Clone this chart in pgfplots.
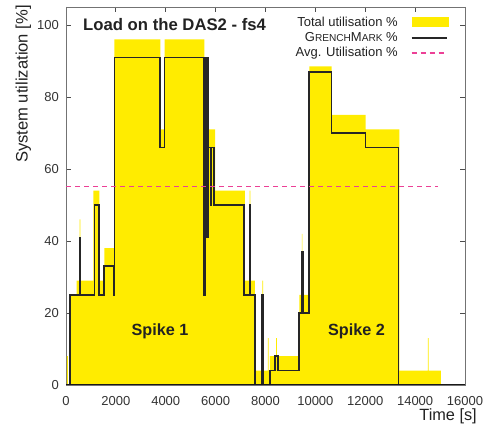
\documentclass[border=0pt]{standalone}
\usepackage{fontspec}
\setmainfont{Liberation Sans}
\usepackage{pgfplots}
\pgfplotsset{compat=1.18}
\definecolor{ylw}{RGB}{255,236,0}
\definecolor{avg}{RGB}{236,64,150}
\definecolor{txt}{RGB}{34,34,34}
\newcommand\fsc[1]{{\fontsize{10.1}{10}\selectfont #1}}

\begin{document}
\begin{tikzpicture}
\path[use as bounding box] (0pt,0pt) rectangle (488pt,425pt);
\begin{axis}[
  at={(66pt,40pt)}, anchor=south west,
  scale only axis, width=399pt, height=378pt,
  xmin=0, xmax=16000, ymin=0, ymax=105,
  xtick={0,2000,...,16000}, ytick={0,20,...,100},
  scaled x ticks=false,
  /pgf/number format/1000 sep={},
  /pgf/number format/assume math mode=true,
  ticklabel style={font=\fontsize{13}{13}\selectfont, text=black!80},
  xticklabel style={inner sep=0pt, yshift=-11.5pt},
  yticklabel style={inner sep=0pt, xshift=-7pt},
  tick align=inside, major tick length=5pt,
  tick style={black!70, line width=0.8pt},
  axis line style={black!55, line width=0.8pt},
  xlabel={Time [s]},
  xlabel style={inner sep=0pt, at={(axis description cs:1.030,-0.061)}, anchor=north east, font=\fontsize{16.3}{17}\selectfont, text=txt},
  ylabel={System utilization [\%]},
  ylabel style={inner sep=0pt, at={(axis description cs:-0.107,0.796)}, anchor=center, font=\fontsize{16.6}{17}\selectfont, text=txt},
  legend plot pos=right,
  legend style={draw=none, fill=none, at={(rel axis cs:0.967,0.985)}, anchor=north east,
    font=\fontsize{13}{13}\selectfont, text=txt, cells={anchor=east}, row sep=0.6pt,
    /tikz/every odd column/.append style={column sep=11pt}},
]
\addplot[const plot, fill=ylw, draw=none,
  legend image code/.code={\fill[ylw] (0pt,-5pt) rectangle (37pt,5pt);}]
  coordinates {(0,0) (35,8) (75,0) (160,25) (428,29) (545,46) (580,29) (1095,54) (1335,29)
  (1535,38) (1937,96) (3780,71) (3957,96) (5545,71) (5975,54) (7177,29) (7365,54) (7395,29)
  (7578,4) (7870,29) (7900,4) (8100,13) (8130,4) (8180,8) (8430,13) (8460,8) (9355,25)
  (9455,42) (9480,25) (9755,88.5) (10653,75) (12016,71) (13365,4) (14510,13) (14540,4)
  (15036,0)} \closedcycle;
\addlegendentry{Total utilisation \%}
\addplot[const plot, black!85, line width=1.6pt, line join=miter,
  legend image code/.code={\draw[black!85,line width=1.8pt] (0pt,0pt) -- (35pt,0pt);}]
  coordinates {(0,0) (160,25) (540,41) (580,25) (1135,50) (1335,25) (1535,33) (1925,25)
  (1937,91) (3780,66) (3957,91) (5545,25) (5570,33) (5595,91) (5615,41) (5640,91) (5660,41)
  (5685,91) (5707,66) (5790,50) (5830,66) (5935,50) (7137,25) (7365,50) (7395,25) (7578,0)
  (7860,25) (7900,0) (8180,4) (8380,8) (8500,4) (9355,20) (9470,37) (9510,20) (9755,87)
  (10653,70) (12016,66) (13340,0) (15000,0)};
\addlegendentry{G\fsc{RENCH}M\fsc{ARK} \%}
\addplot[avg, line width=1pt, dash pattern=on 5pt off 4pt,
  legend image code/.code={\draw[avg,line width=1.1pt,dash pattern=on 5pt off 4pt] (0pt,0pt) -- (34pt,0pt);}]
  coordinates {(0,55.2) (14900,55.2)};
\addlegendentry{Avg. Utilisation \%}
\draw[black!90, line width=1.2pt] (rel axis cs:0,0) -- (rel axis cs:1,0);
\node[anchor=west, inner sep=0pt, font=\bfseries\fontsize{16.7}{17}\selectfont, text=txt]
  at (axis cs:682,100) {Load on the DAS2 - fs4};
\node[font=\bfseries\fontsize{16.2}{17}\selectfont, text=txt] at (axis cs:3770,15) {Spike 1};
\node[font=\bfseries\fontsize{16.2}{17}\selectfont, text=txt] at (axis cs:11650,15) {Spike 2};
\end{axis}
\end{tikzpicture}
\end{document}
